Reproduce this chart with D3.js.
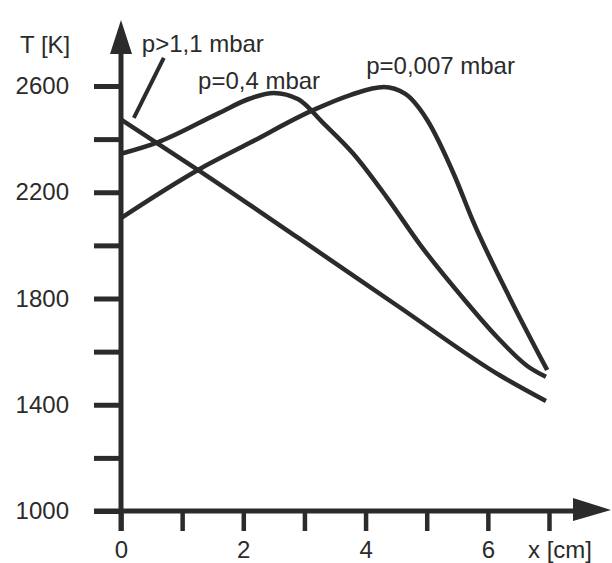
<!DOCTYPE html>
<html>
<head>
<meta charset="utf-8">
<script src="https://cdn.jsdelivr.net/npm/d3@7"></script>
<style>
  body { margin: 0; background: #fff; }
  svg { display: block; font-family: "Liberation Sans", Arial, sans-serif; }
</style>
</head>
<body>
<svg id="chart" width="612" height="563"></svg>
<script>
// x in cm, T in K
const highX = [0, 1.3, 2.9, 4.55, 6.2, 6.95];
const highT = [2474, 2278, 2028, 1768, 1510, 1414];

const midX = [0, 0.6, 1.6, 2.1, 2.5, 2.9, 3.3, 3.8, 4.35, 4.9, 5.6, 6.15, 6.65, 6.95];
const midT = [2345, 2388, 2498, 2552, 2574, 2550, 2462, 2345, 2180, 2000, 1800, 1655, 1545, 1505];

const lowX = [0, 1.26, 2.1, 3.15, 3.75, 4.3, 4.65, 5.0, 5.45, 5.75, 6.35, 6.97];
const lowT = [2103, 2284, 2385, 2510, 2566, 2596, 2570, 2475, 2265, 2095, 1806, 1531];

const yTicks = [1000, 1200, 1400, 1600, 1800, 2000, 2200, 2400, 2600];
const xTicks = [0, 1, 2, 3, 4, 5, 6, 7];

// labels: [text, x cm, T at baseline]
const labels = [
  ['p>1,1 mbar', 0.34, 2728],
  ['p=0,4 mbar', 1.26, 2589],
  ['p=0,007 mbar', 4.01, 2645]
];
const leader = [[0.70, 2706], [0.21, 2480]];

const ink = '#2b2b2b';
const svg = d3.select('#chart');

const x = d3.scaleLinear().domain([0, 7]).range([121, 549]);
const y = d3.scaleLinear().domain([1000, 2600]).range([511, 86]);

// y axis ticks + labels
const yAxis = d3.axisLeft(y)
  .tickValues(yTicks)
  .tickSize(27)
  .tickPadding(25)
  .tickFormat(d => ((d - 1000) % 400 === 0 ? d : ''));

const yg = svg.append('g')
  .attr('transform', `translate(${x(0)},0)`)
  .call(yAxis);
yg.select('.domain').remove();
yg.selectAll('.tick line').attr('stroke', ink).attr('stroke-width', 5);
yg.selectAll('.tick text')
  .attr('fill', ink)
  .style('font-size', '24px');

// x axis ticks + labels
const xAxis = d3.axisBottom(x)
  .tickValues(xTicks)
  .tickSize(20)
  .tickPadding(10)
  .tickFormat(d => (d % 2 === 0 && d < 7 ? d : ''));

const xg = svg.append('g')
  .attr('transform', `translate(0,${y(1000)})`)
  .call(xAxis);
xg.select('.domain').remove();
xg.selectAll('.tick line').attr('stroke', ink).attr('stroke-width', 4.5);
xg.selectAll('.tick text')
  .attr('fill', ink)
  .style('font-size', '24px');

// axis lines with arrow heads
svg.append('line')
  .attr('x1', x(0)).attr('x2', x(0))
  .attr('y1', 50).attr('y2', y(1000) + 20)
  .attr('stroke', ink).attr('stroke-width', 5);
svg.append('path')
  .attr('d', `M${x(0)},20L${x(0) + 11},54L${x(0) - 11},54Z`)
  .attr('fill', ink);

svg.append('line')
  .attr('x1', x(0) - 27).attr('x2', 578)
  .attr('y1', y(1000)).attr('y2', y(1000))
  .attr('stroke', ink).attr('stroke-width', 5);
svg.append('path')
  .attr('d', `M611,${y(1000) - 1}L573,${y(1000) - 13}L573,${y(1000) + 10}Z`)
  .attr('fill', ink);

// axis titles
svg.append('text')
  .attr('x', 20).attr('y', 53)
  .attr('fill', ink)
  .style('font-size', '24px')
  .text('T [K]');
svg.append('text')
  .attr('x', 528).attr('y', 558)
  .attr('fill', ink)
  .style('font-size', '24px')
  .text('x [cm]');

// curves
const line = d3.line()
  .x(d => x(d[0]))
  .y(d => y(d[1]))
  .curve(d3.curveMonotoneX);

const series = [
  d3.zip(highX, highT),
  d3.zip(midX, midT),
  d3.zip(lowX, lowT)
];

svg.append('g')
  .selectAll('path')
  .data(series)
  .join('path')
  .attr('d', line)
  .attr('fill', 'none')
  .attr('stroke', ink)
  .attr('stroke-width', 4.5)
  .attr('stroke-linejoin', 'round');

// annotations
svg.append('path')
  .attr('d', d3.line().x(d => x(d[0])).y(d => y(d[1]))(leader))
  .attr('stroke', ink)
  .attr('stroke-width', 4);

svg.append('g')
  .selectAll('text')
  .data(labels)
  .join('text')
  .attr('x', d => x(d[1]))
  .attr('y', d => y(d[2]))
  .attr('fill', ink)
  .style('font-size', '24px')
  .text(d => d[0]);
</script>
</body>
</html>
